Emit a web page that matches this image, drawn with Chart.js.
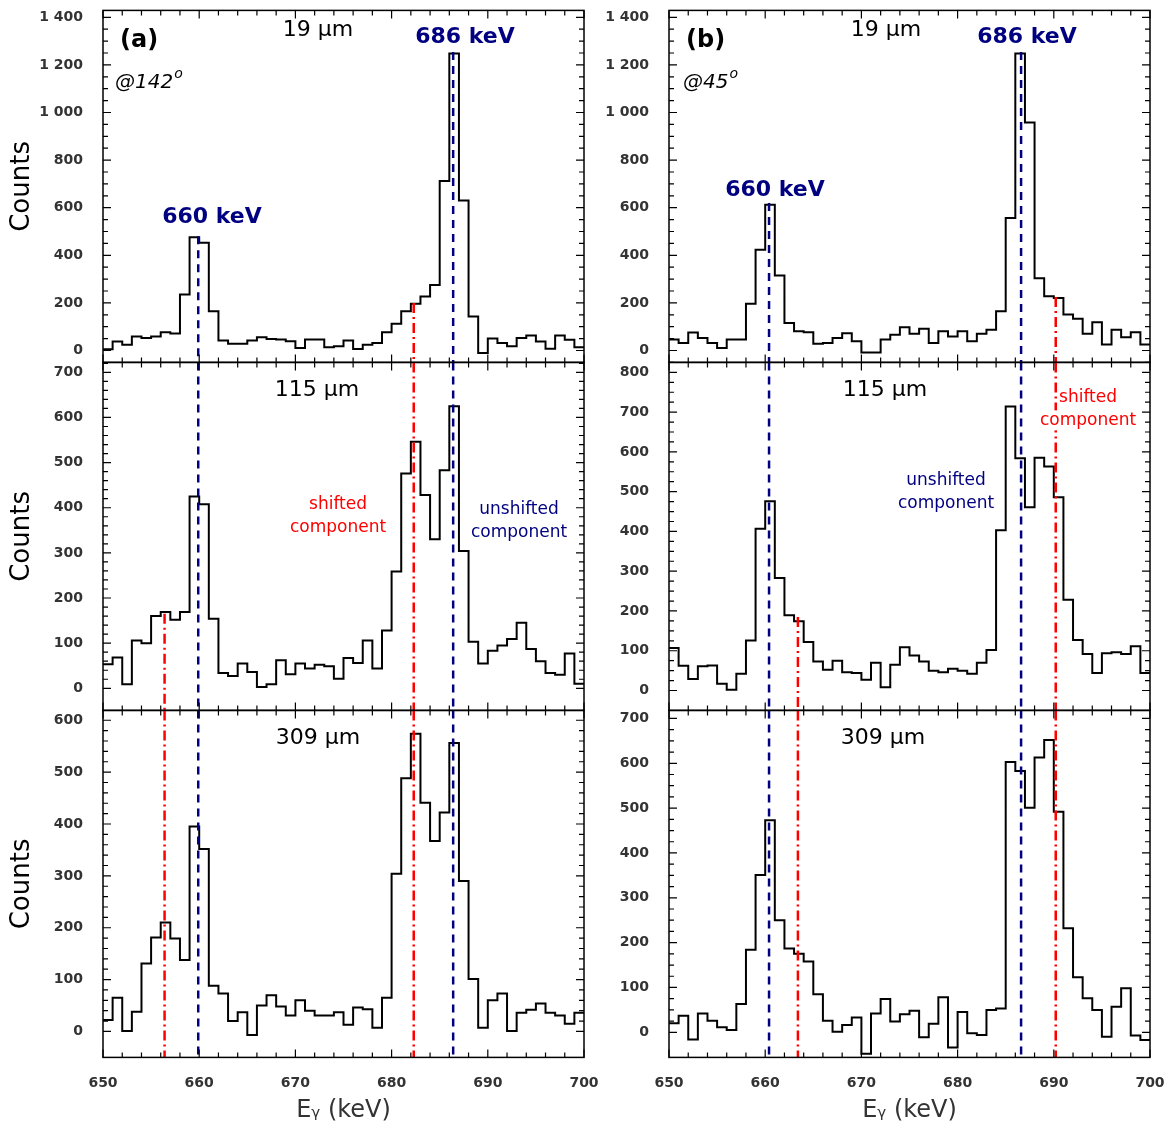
<!DOCTYPE html>
<html lang="en">
<head>
<meta charset="UTF-8">
<title>Gamma spectra</title>
<script src="https://cdn.jsdelivr.net/npm/chart.js"></script>
<style>
  body { margin: 0; background: #fff; width: 1167px; height: 1129px; position: relative; overflow: hidden; }
  .panel { position: absolute; }
</style>
</head>
<body>
<div id="root"></div>
<script>
  // bin left edges: 650 ... 699 keV, 1 keV wide
  const binStart = 650;
  const binCount = 50;

  // counts per bin
  const a19 = [5,38,24,59,52,59,77,71,235,476,453,165,42,28,28,42,56,48,46,39,11,46,46,14,18,42,6,24,32,77,112,165,196,227,275,712,1248,630,143,-10,50,31,18,52,63,38,7,63,45,14];
  const a115 = [53,68,9,106,100,160,169,152,169,425,408,154,34,27,55,36,3,9,62,31,55,44,52,49,21,67,56,106,44,128,259,476,546,428,330,483,625,304,103,55,83,95,109,145,87,60,34,30,77,10];
  const a309 = [22,65,1,38,131,181,210,179,138,395,352,88,73,20,37,-7,50,70,48,31,60,40,31,31,37,13,46,43,7,65,304,488,574,441,367,422,556,290,101,7,60,73,1,36,42,54,36,31,15,36];
  const b19 = [46,32,76,52,32,11,46,46,196,423,612,315,116,81,77,28,32,53,73,39,-8,-8,46,66,98,70,91,32,81,59,81,39,70,87,165,557,1248,958,304,228,221,151,133,70,119,25,87,56,77,25];
  const b115 = [107,62,29,61,63,17,2,42,126,407,476,283,189,174,122,73,52,75,46,44,27,70,8,65,109,88,73,50,46,55,50,42,70,102,403,714,584,461,585,563,486,228,127,92,44,94,96,92,111,44];
  const b309 = [20,37,-16,42,26,11,5,63,184,351,473,250,187,175,158,85,26,1,16,33,-48,42,74,24,40,48,-11,19,78,-34,45,-2,-6,50,53,603,583,501,613,652,492,232,123,76,50,-10,57,98,-7,-17];

  // tick labels
  const xTicks = [650, 660, 670, 680, 690, 700];
  const yTicksTop = [0, 200, 400, 600, 800, 1000, 1200, 1400];
  const yTicks700 = [0, 100, 200, 300, 400, 500, 600, 700];
  const yTicks600 = [0, 100, 200, 300, 400, 500, 600];
  const yTicks800 = [0, 100, 200, 300, 400, 500, 600, 700, 800];

  // reference line energies (keV)
  const lineA = { u660: 659.9, u686: 686.4, s660: 656.4, s686: 682.3 };
  const lineB = { u660: 660.4, u686: 686.6, s660: 663.4, s686: 690.2 };

  const BLUE = '#000080', RED = '#ff0000';
  const FONT = '"DejaVu Sans", sans-serif';
  const PLOT_W = 481;

  function fmt(v) { return String(v).replace(/\B(?=(\d{3})+$)/, ' '); }

  const decor = {
    id: 'decor',
    afterDatasetsDraw(chart, args, o) {
      const ctx = chart.ctx, a = chart.chartArea;
      const xs = chart.scales.x, ys = chart.scales.y;
      ctx.save();
      ctx.beginPath(); ctx.rect(a.left, a.top, a.right - a.left, a.bottom - a.top); ctx.clip();
      (o.markers || []).forEach(m => {
        const x = xs.getPixelForValue(m.e);
        const y0 = m.from == null ? a.top : ys.getPixelForValue(m.from);
        ctx.beginPath();
        ctx.strokeStyle = m.color;
        ctx.lineWidth = 2.5;
        ctx.setLineDash(m.color === RED ? [10, 4, 2, 4] : [8, 6]);
        ctx.moveTo(x, y0); ctx.lineTo(x, a.bottom);
        ctx.stroke();
      });
      ctx.setLineDash([]);
      ctx.restore();
      ctx.save();
      ctx.strokeStyle = '#000'; ctx.lineWidth = 1.2;
      ctx.beginPath();
      for (let e = 650; e <= 700; e += 2) {
        const x = xs.getPixelForValue(e), L = e % 10 === 0 ? 8 : 5;
        ctx.moveTo(x, a.top); ctx.lineTo(x, a.top + L);
        ctx.moveTo(x, a.bottom); ctx.lineTo(x, a.bottom - L);
      }
      for (let v = 0; v <= ys.max; v += o.minorY) {
        const y = ys.getPixelForValue(v), L = (v % o.majorY === 0) ? 8 : 5;
        ctx.moveTo(a.left, y); ctx.lineTo(a.left + L, y);
        ctx.moveTo(a.right, y); ctx.lineTo(a.right - L, y);
      }
      ctx.stroke();
      ctx.lineWidth = 1.5;
      ctx.strokeRect(a.left, a.top, a.right - a.left, a.bottom - a.top);
      (o.texts || []).forEach(t => {
        ctx.font = t.font;
        ctx.textAlign = t.align || 'center';
        ctx.textBaseline = 'middle';
        const x = a.left + t.dx, y = a.top + t.dy;
        if (t.bg) {
          const w = ctx.measureText(t.t).width;
          ctx.fillStyle = '#fff';
          ctx.fillRect(x - w / 2 - 2, y - 10, w + 4, 20);
        }
        ctx.fillStyle = t.color || '#000';
        ctx.fillText(t.t, x, y);
        if (t.sup) {
          const w = ctx.measureText(t.t).width;
          ctx.font = t.supFont;
          ctx.textAlign = 'left';
          ctx.fillText(t.sup, x + w + 1, y - 8);
        }
      });
      ctx.restore();
    }
  };

  function panel(cfg) {
    const div = document.createElement('div');
    div.className = 'panel';
    const extra = cfg.bottom ? 72 : 2;
    let L = cfg.left - 100, T = cfg.top - 12, W = PLOT_W + 100 + 30, H = cfg.h + 12 + extra;
    const place = () => {
      div.style.left = L + 'px'; div.style.top = T + 'px';
      div.style.width = W + 'px'; div.style.height = H + 'px';
    };
    place();
    const cv = document.createElement('canvas');
    div.appendChild(cv);
    document.getElementById('root').appendChild(div);
    const pts = cfg.data.map((v, i) => ({ x: binStart + i, y: v }));
    pts.push({ x: binStart + binCount, y: cfg.data[binCount - 1] });
    const chart = new Chart(cv, {
      type: 'line',
      data: { datasets: [{ data: pts, borderColor: '#000', borderWidth: 2, stepped: 'before', pointRadius: 0, fill: false }] },
      options: {
        responsive: true, maintainAspectRatio: false, animation: false,
        layout: { padding: { top: 12, right: 30, left: 0, bottom: 0 } },
        plugins: { legend: { display: false }, tooltip: { enabled: false },
          decor: { markers: cfg.markers, texts: cfg.texts, minorY: cfg.minorY, majorY: cfg.majorY } },
        scales: {
          x: {
            type: 'linear', min: 650, max: 700,
            grid: { display: false }, border: { display: false },
            afterBuildTicks: s => { s.ticks = xTicks.map(v => ({ value: v })); },
            afterFit: s => { s.height = extra; },
            ticks: { display: !!cfg.bottom, padding: 10, color: '#333', font: { family: FONT, size: 14, weight: 'bold' } },
            title: { display: !!cfg.bottom, text: 'Eᵧ (keV)', color: '#333', font: { family: FONT, size: 24 }, padding: { top: 2 } }
          },
          y: {
            min: cfg.min, max: cfg.max,
            grid: { display: false }, border: { display: false },
            afterBuildTicks: s => { s.ticks = cfg.yTicks.map(v => ({ value: v })); },
            afterFit: s => { s.width = 100; },
            ticks: { padding: 12, color: '#333', font: { family: FONT, size: 14, weight: 'bold' }, callback: v => fmt(v) },
            title: { display: cfg.left < 300, text: 'Counts', color: '#000', font: { family: FONT, size: 26 }, padding: { bottom: 0 } }
          }
        }
      },
      plugins: [decor]
    });
    // nudge the canvas so the plot area lands on the wanted box
    for (let k = 0; k < 3; k++) {
      const a = chart.chartArea;
      L = cfg.left - a.left; T = cfg.top - a.top;
      W += PLOT_W - (a.right - a.left);
      H += cfg.h - (a.bottom - a.top);
      place();
      chart.resize();
    }
  }

  const big = 'bold 22px ' + FONT, mid = '22px ' + FONT, small = '17px ' + FONT;

  panel({ left: 103, top: 10, h: 352, data: a19, min: -50, max: 1429, yTicks: yTicksTop, minorY: 50, majorY: 200,
    markers: [{ e: lineA.u660, color: BLUE, from: 480 }, { e: lineA.u686, color: BLUE, from: 1254 }, { e: lineA.s686, color: RED, from: 200 }],
    texts: [
      { t: '(a)', dx: 17, dy: 30, font: 'bold 24px ' + FONT, align: 'left' },
      { t: '19 µm', dx: 215, dy: 20, font: mid },
      { t: '686 keV', dx: 362, dy: 27, font: big, color: BLUE },
      { t: '660 keV', dx: 109, dy: 207, font: big, color: BLUE },
      { t: '@142', dx: 12, dy: 72, font: 'italic 20px ' + FONT, align: 'left', sup: 'o', supFont: 'italic 14px ' + FONT }
    ] });
  panel({ left: 103, top: 362, h: 348, data: a115, min: -49, max: 722, yTicks: yTicks700, minorY: 20, majorY: 100,
    markers: [{ e: lineA.u660, color: BLUE }, { e: lineA.u686, color: BLUE }, { e: lineA.s686, color: RED }, { e: lineA.s660, color: RED, from: 165 }],
    texts: [
      { t: '115 µm', dx: 214, dy: 28, font: mid },
      { t: 'shifted', dx: 235, dy: 142, font: small, color: RED },
      { t: 'component', dx: 235, dy: 165, font: small, color: RED },
      { t: 'unshifted', dx: 416, dy: 147, font: small, color: BLUE },
      { t: 'component', dx: 416, dy: 170, font: small, color: BLUE }
    ] });
  panel({ left: 103, top: 710, h: 347, bottom: true, data: a309, min: -50, max: 619, yTicks: yTicks600, minorY: 20, majorY: 100,
    markers: [{ e: lineA.u660, color: BLUE }, { e: lineA.u686, color: BLUE }, { e: lineA.s686, color: RED }, { e: lineA.s660, color: RED }],
    texts: [{ t: '309 µm', dx: 215, dy: 28, font: mid }] });

  panel({ left: 669, top: 10, h: 352, data: b19, min: -50, max: 1429, yTicks: yTicksTop, minorY: 50, majorY: 200,
    markers: [{ e: lineB.u660, color: BLUE, from: 620 }, { e: lineB.u686, color: BLUE, from: 1254 }, { e: lineB.s686, color: RED, from: 225 }],
    texts: [
      { t: '(b)', dx: 17, dy: 30, font: 'bold 24px ' + FONT, align: 'left' },
      { t: '19 µm', dx: 217, dy: 20, font: mid },
      { t: '686 keV', dx: 358, dy: 27, font: big, color: BLUE },
      { t: '660 keV', dx: 106, dy: 180, font: big, color: BLUE },
      { t: '@45', dx: 14, dy: 72, font: 'italic 20px ' + FONT, align: 'left', sup: 'o', supFont: 'italic 14px ' + FONT }
    ] });
  panel({ left: 669, top: 362, h: 348, data: b115, min: -50, max: 825, yTicks: yTicks800, minorY: 25, majorY: 100,
    markers: [{ e: lineB.u660, color: BLUE }, { e: lineB.u686, color: BLUE }, { e: lineB.s686, color: RED }, { e: lineB.s660, color: RED, from: 185 }],
    texts: [
      { t: '115 µm', dx: 216, dy: 28, font: mid },
      { t: 'unshifted', dx: 277, dy: 118, font: small, color: BLUE },
      { t: 'component', dx: 277, dy: 141, font: small, color: BLUE },
      { t: 'shifted', dx: 419, dy: 35, font: small, color: RED, bg: true },
      { t: 'component', dx: 419, dy: 58, font: small, color: RED, bg: true }
    ] });
  panel({ left: 669, top: 710, h: 347, bottom: true, data: b309, min: -56, max: 718, yTicks: yTicks700, minorY: 25, majorY: 100,
    markers: [{ e: lineB.u660, color: BLUE }, { e: lineB.u686, color: BLUE }, { e: lineB.s686, color: RED }, { e: lineB.s660, color: RED }],
    texts: [{ t: '309 µm', dx: 214, dy: 28, font: mid }] });
</script>
</body>
</html>
